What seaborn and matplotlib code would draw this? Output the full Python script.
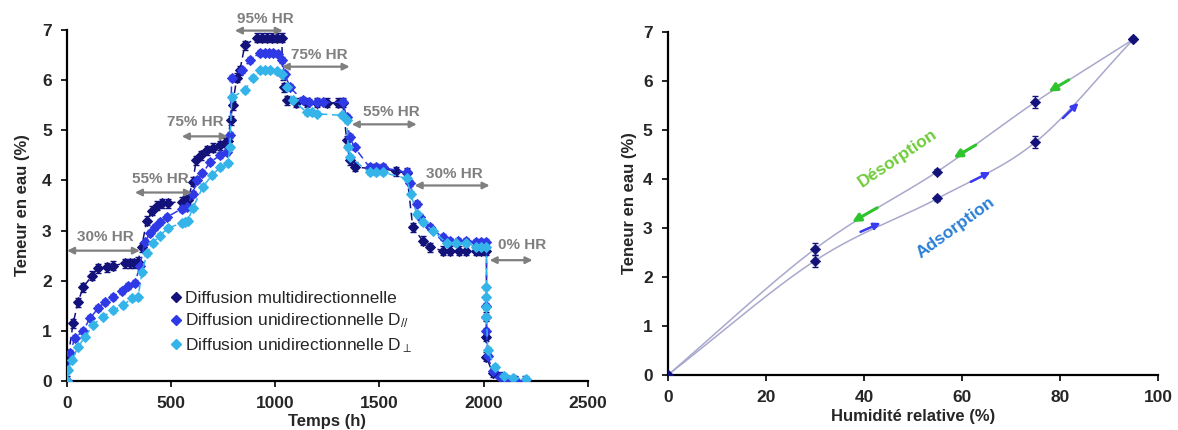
import numpy as np
import pandas as pd
import matplotlib
matplotlib.use("Agg")
import matplotlib.pyplot as plt
import seaborn as sns

# ---- kinetics data (left panel) ----
t_multi = [0, 5, 29, 53, 77, 120, 149, 190, 221, 278, 300, 320, 340, 358, 383, 408, 432, 458, 484,
           552, 566, 580, 604, 620, 645, 670, 700, 735, 760, 772, 785, 795, 815, 830, 854,
           911, 935, 960, 985, 1010, 1031, 1036, 1040, 1055, 1100, 1150, 1200, 1250, 1300, 1324,
           1343, 1357, 1381, 1453, 1485, 1516, 1580, 1631, 1660, 1707, 1741, 1803, 1840, 1880, 1918,
           1966, 1990, 2014, 2014, 2014, 2014, 2043, 2077, 2110, 2150, 2200]
w_multi = [0, 0.46, 1.15, 1.57, 1.87, 2.10, 2.25, 2.27, 2.30, 2.35, 2.35, 2.35, 2.38, 2.67, 3.20, 3.40, 3.50, 3.55, 3.55,
           3.58, 3.60, 3.62, 3.97, 4.40, 4.50, 4.60, 4.65, 4.70, 4.75, 4.78, 5.20, 5.50, 6.05, 6.20, 6.70,
           6.85, 6.85, 6.85, 6.85, 6.85, 6.85, 6.10, 5.86, 5.60, 5.55, 5.55, 5.55, 5.55, 5.55, 5.55,
           4.80, 4.40, 4.27, 4.24, 4.24, 4.24, 4.18, 4.15, 3.07, 2.80, 2.67, 2.60, 2.60, 2.60, 2.60,
           2.60, 2.60, 2.60, 1.28, 0.88, 0.48, 0.16, 0.08, 0.02, 0.0, 0.0]

t_para = [0, 14, 38, 77, 110, 149, 182, 221, 264, 293, 326, 350, 374, 398, 422, 446, 480,
          552, 575, 604, 624, 650, 686, 734, 767, 782, 791, 839, 878, 926, 950, 970, 988,
          1012, 1031, 1046, 1070, 1132, 1160, 1199, 1228, 1324, 1343, 1357, 1381, 1453, 1485, 1516,
          1631, 1645, 1679, 1693, 1741, 1803, 1837, 1878, 1918, 1966, 1990, 2014,
          2014, 2014, 2020, 2043, 2077, 2110, 2150, 2200]
w_para = [0, 0.56, 0.86, 1.00, 1.25, 1.45, 1.58, 1.68, 1.80, 1.90, 1.95, 2.30, 2.77, 2.95, 3.07, 3.17, 3.27,
          3.44, 3.47, 3.74, 4.00, 4.14, 4.36, 4.50, 4.56, 4.90, 6.05, 6.20, 6.40, 6.55, 6.55, 6.55, 6.55,
          6.53, 6.40, 6.13, 5.86, 5.60, 5.56, 5.56, 5.56, 5.56, 5.26, 4.86, 4.66, 4.26, 4.26, 4.26,
          4.16, 3.94, 3.54, 3.27, 3.07, 2.87, 2.80, 2.80, 2.80, 2.77, 2.77, 2.77,
          1.50, 1.00, 0.50, 0.20, 0.08, 0.03, 0.01, 0.0]

t_perp = [0, 5, 24, 53, 86, 125, 173, 221, 269, 312, 341, 360, 384, 412, 446, 484,
          552, 566, 580, 604, 652, 695, 734, 772, 782, 791, 854, 892, 926, 950, 975, 1007,
          1031, 1055, 1084, 1151, 1175, 1199, 1320, 1343, 1350, 1360, 1453, 1485, 1516,
          1631, 1650, 1679, 1707, 1755, 1823, 1870, 1918, 1966, 1990, 2014,
          2014, 2014, 2014, 2014, 2020, 2053, 2100, 2139, 2206]
w_perp = [0, 0.22, 0.42, 0.68, 0.88, 1.12, 1.28, 1.41, 1.51, 1.65, 1.67, 2.17, 2.55, 2.75, 2.90, 3.05,
          3.15, 3.17, 3.20, 3.45, 3.87, 4.10, 4.26, 4.34, 4.66, 5.66, 5.80, 6.05, 6.20, 6.20, 6.20, 6.18,
          6.13, 5.86, 5.60, 5.36, 5.36, 5.33, 5.30, 5.20, 4.66, 4.46, 4.16, 4.16, 4.16,
          4.04, 3.74, 3.34, 3.17, 3.00, 2.75, 2.75, 2.75, 2.67, 2.67, 2.67,
          1.87, 1.67, 1.47, 1.28, 0.62, 0.28, 0.10, 0.06, 0.04]

err_multi = 0.09
err_para = 0.06
err_perp = 0.05

series_labels = ["Diffusion multidirectionnelle",
                 "Diffusion unidirectionnelle D$_{//}$",
                 "Diffusion unidirectionnelle D$_{\\perp}$"]
series_colors = ["#12127a", "#2f3ae6", "#35b4ea"]

# humidity steps (label, start, end, arrow level, label position)
hr_labels = ["30% HR", "55% HR", "75% HR", "95% HR", "75% HR", "55% HR", "30% HR", "0% HR"]
hr_start = [0, 326, 551, 806, 1031, 1367, 1669, 2029]
hr_end = [350, 600, 772, 1036, 1357, 1679, 2029, 2235]
hr_level = [2.60, 3.76, 4.88, 6.99, 6.27, 5.12, 3.90, 2.41]
hr_text_t = [182, 446, 614, 950, 1213, 1559, 1861, 2187]
hr_text_w = [2.87, 4.03, 5.16, 7.22, 6.50, 5.36, 4.13, 2.71]

# ---- sorption isotherm (right panel) ----
hr_ads = [0, 30, 55, 75, 95]
w_ads = [0, 2.33, 3.60, 4.75, 6.85]
hr_des = [95, 75, 55, 30, 0]
w_des = [6.85, 5.57, 4.15, 2.57, 0]
err_iso = [0.02, 0.12, 0.06, 0.12, 0.04]

des_arrows = [((81.8, 6.02), (77.7, 5.78)), ((62.8, 4.69), (58.3, 4.43)), ((42.7, 3.41), (37.6, 3.12))]
ads_arrows = [((39.3, 2.92), (43.4, 3.10)), ((61.8, 3.94), (65.8, 4.14)), ((80.6, 5.24), (83.8, 5.55))]


def smooth_curve(xs, ys, n=40):
    # Catmull-Rom path through the measured points (like Excel's smoothed line)
    pts = np.column_stack([xs, ys]).astype(float)
    p = np.vstack([2 * pts[0] - pts[1], pts, 2 * pts[-1] - pts[-2]])
    out = []
    s = np.linspace(0, 1, n, endpoint=False)[:, None]
    for i in range(1, len(p) - 2):
        p0, p1, p2, p3 = p[i - 1], p[i], p[i + 1], p[i + 2]
        seg = 0.5 * (2 * p1 + (-p0 + p2) * s + (2 * p0 - 5 * p1 + 4 * p2 - p3) * s ** 2
                     + (-p0 + 3 * p1 - 3 * p2 + p3) * s ** 3)
        out.append(seg)
    out.append(pts[-1:])
    c = np.vstack(out)
    return c[:, 0], c[:, 1]


sns.set_theme(style="white")
plt.rcParams["font.family"] = ["Liberation Sans", "DejaVu Sans"]
plt.rcParams["mathtext.fontset"] = "custom"
plt.rcParams["mathtext.rm"] = "Liberation Sans"
plt.rcParams["mathtext.it"] = "Liberation Sans:italic"

fig = plt.figure(figsize=(11.78, 4.30), dpi=100)
ax1 = fig.add_axes([0.0569, 0.114, 0.442, 0.816])
ax2 = fig.add_axes([0.567, 0.128, 0.416, 0.798])

grey = "#7f7f7f"

# left panel
kin = [(t_multi, w_multi, err_multi), (t_para, w_para, err_para), (t_perp, w_perp, err_perp)]
handles = []
for (tt, ww, ee), lab, col in zip(kin, series_labels, series_colors):
    df = pd.DataFrame({"t": tt, "w": ww})
    ax1.errorbar(df["t"], df["w"], yerr=ee, fmt="none", ecolor=col, elinewidth=0.8, capsize=2, zorder=2)
    sns.lineplot(data=df, x="t", y="w", ax=ax1, estimator=None, sort=False, color=col,
                 linestyle=(0, (5, 3)), linewidth=1.1, marker="D", markersize=4.6,
                 markeredgecolor=col, zorder=3)
    handles.append(plt.Line2D([], [], linestyle="none", marker="D", markersize=4.6, color=col))

for lab, t0, t1, lv, tx, ty in zip(hr_labels, hr_start, hr_end, hr_level, hr_text_t, hr_text_w):
    ax1.annotate("", xy=(t1, lv), xytext=(t0, lv),
                 arrowprops=dict(arrowstyle="<|-|>", color=grey, lw=1.6, mutation_scale=10,
                                 shrinkA=0, shrinkB=0), annotation_clip=False, zorder=4)
    ax1.text(tx, ty, lab, color=grey, fontsize=11, fontweight="bold", ha="center", va="center",
             clip_on=False)

ax1.set_xlim(0, 2500)
ax1.set_ylim(0, 7)
ax1.set_xticks([0, 500, 1000, 1500, 2000, 2500])
ax1.set_yticks(range(0, 8))
ax1.set_xlabel("Temps (h)", fontsize=12, fontweight="bold", labelpad=2)
ax1.set_ylabel("Teneur en eau (%)", fontsize=12, fontweight="bold", labelpad=9)
ax1.legend(handles, series_labels, loc="lower left", bbox_to_anchor=(0.185, 0.055), frameon=False,
           fontsize=12.5, handlelength=0.6, handletextpad=0.25, labelspacing=0.32, borderaxespad=0)

# right panel
iso = pd.DataFrame({"hr": hr_ads + hr_des, "w": w_ads + w_des})
xs, ys = smooth_curve(hr_ads, w_ads)
ax2.plot(xs, ys, color="#a8a8cc", lw=1.1, zorder=1)
xs, ys = smooth_curve(hr_des, w_des)
ax2.plot(xs, ys, color="#a8a8cc", lw=1.1, zorder=1)
ax2.errorbar(hr_ads, w_ads, yerr=err_iso, fmt="none", ecolor="#12127a", elinewidth=0.8, capsize=2, zorder=2)
ax2.errorbar(hr_des, w_des, yerr=err_iso[::-1], fmt="none", ecolor="#12127a", elinewidth=0.8, capsize=2, zorder=2)
sns.scatterplot(data=iso, x="hr", y="w", ax=ax2, color="#12127a", marker="D", s=28,
                edgecolor="#12127a", zorder=3, legend=False)

for (a, b) in des_arrows:
    ax2.annotate("", xy=b, xytext=a, arrowprops=dict(arrowstyle="-|>", color="#2ec42e", lw=2.2,
                                                     mutation_scale=12, shrinkA=0, shrinkB=0))
for (a, b) in ads_arrows:
    ax2.annotate("", xy=b, xytext=a, arrowprops=dict(arrowstyle="-|>", color="#3a3af0", lw=1.8,
                                                     mutation_scale=10, shrinkA=0, shrinkB=0))
ax2.text(46.8, 4.42, "Désorption", color="#6fcc3a", fontsize=12.5, fontweight="bold",
         rotation=34, ha="center", va="center", rotation_mode="anchor")
ax2.text(58.7, 3.0, "Adsorption", color="#2a7fd4", fontsize=12.5, fontweight="bold",
         rotation=36, ha="center", va="center", rotation_mode="anchor")

ax2.set_xlim(0, 100)
ax2.set_ylim(0, 7)
ax2.set_xticks([0, 20, 40, 60, 80, 100])
ax2.set_yticks(range(0, 8))
ax2.set_xlabel("Humidité relative (%)", fontsize=12, fontweight="bold", labelpad=3)
ax2.set_ylabel("Teneur en eau (%)", fontsize=12, fontweight="bold", labelpad=4)

for ax in (ax1, ax2):
    sns.despine(ax=ax)
    for sp in ("left", "bottom"):
        ax.spines[sp].set_color("black")
        ax.spines[sp].set_linewidth(1.6)
    ax.tick_params(axis="both", direction="out", length=4, width=1.2, color="black",
                   labelsize=12.5, pad=7, left=True, bottom=True)
    for lbl in ax.get_xticklabels() + ax.get_yticklabels():
        lbl.set_fontweight("bold")
    ax.set_facecolor("white")

fig.savefig("out.png", dpi=100, facecolor="white")
